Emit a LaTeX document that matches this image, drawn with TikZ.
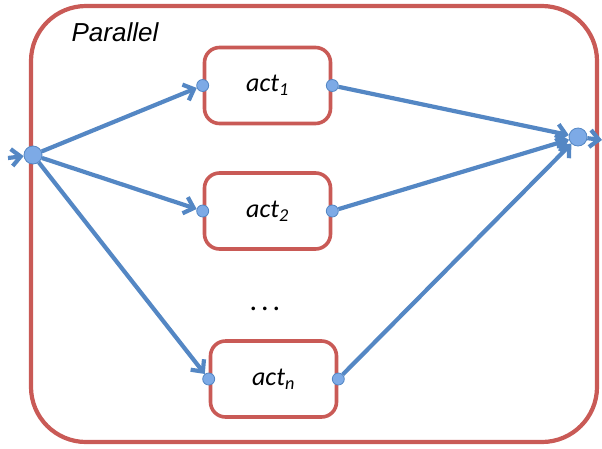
\documentclass[tikz,border=0pt]{standalone}
\usepackage{fontspec}
\setmainfont{Carlito}
\newfontfamily\titlefont{Liberation Sans}
\usetikzlibrary{positioning, arrows.meta}
\definecolor{boxred}{RGB}{201,90,86}
\definecolor{flowblue}{RGB}{84,135,196}
\definecolor{dotblue}{RGB}{125,170,230}

\begin{document}
\begin{tikzpicture}[
        x=1pt, y=-1pt,
        act/.style={rectangle, rounded corners=15pt, draw=boxred, line width=3.6pt,
          minimum width=126pt, minimum height=76pt, font=\fontsize{26}{30}\selectfont\itshape},
        port/.style={circle, draw=flowblue, line width=0.8pt, fill=dotblue, inner sep=0pt, minimum size=12pt},
        bigport/.style={port, minimum size=18pt},
        flow/.style={draw=flowblue, line width=4.2pt, -{Straight Barb[length=9pt,width=17pt]}}
      ]
      \useasboundingbox (0,0) rectangle (602,448);
      \draw[boxred, line width=4.2pt, rounded corners=55pt] (31,6) rectangle (597,442);
      \node (title) at (115,32) {\titlefont\fontsize{26}{30}\selectfont\itshape Parallel};
      \node[act] (a1) at (267.5,85.5) {act\textsubscript{1}};
      \node[act] (a2) at (267.5,211) {act\textsubscript{2}};
      \node[act] (an) at (273.5,379) {act\textsubscript{\textit{n}}};
      \node (dots) at (265,309) {\fontsize{30}{34}\selectfont .\hspace{4pt}.\hspace{4pt}.};
      \node[port] (a1in) at (a1.west) {};
      \node[port] (a1out) at (a1.east) {};
      \node[port] (a2in) at (a2.west) {};
      \node[port] (a2out) at (a2.east) {};
      \node[port] (anin) at (an.west) {};
      \node[port] (anout) at (an.east) {};
      \node[bigport] (src) at (33,155) {};
      \node[bigport] (dst) at (578,137) {};
      \coordinate (start) at (8,158);
      \coordinate (stop) at (602,140);
      \draw[flow] (start) -- (src);
      \draw[flow] (src) -- (a1in);
      \draw[flow] (src) -- (a2in);
      \draw[flow] (src) -- (anin);
      \draw[flow] (a1out) -- (dst);
      \draw[flow] (a2out) -- (dst);
      \draw[flow] (anout) -- (dst);
      \draw[flow] (dst) -- (stop);
    \end{tikzpicture}
\end{document}
